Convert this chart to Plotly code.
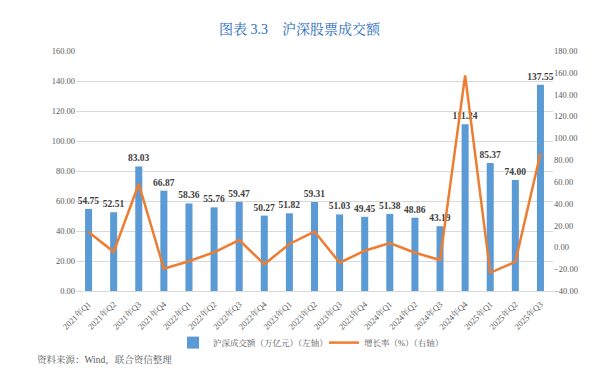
import plotly.graph_objects as go

categories = ["2021年Q1", "2021年Q2", "2021年Q3", "2021年Q4",
              "2022年Q1", "2022年Q2", "2022年Q3", "2022年Q4",
              "2023年Q1", "2023年Q2", "2023年Q3", "2023年Q4",
              "2024年Q1", "2024年Q2", "2024年Q3", "2024年Q4",
              "2025年Q1", "2025年Q2", "2025年Q3"]
turnover = [54.75, 52.51, 83.03, 66.87, 58.36, 55.76, 59.47, 50.27, 51.82, 59.31,
            51.03, 49.45, 51.38, 48.86, 43.19, 111.24, 85.37, 74.00, 137.55]
growth = [14.1, -4.1, 58.1, -19.5, -12.7, -4.5, 6.7, -15.5, 3.1, 14.5,
          -14.0, -3.1, 3.9, -4.9, -11.6, 157.6, -23.3, -13.3, 85.9]

bar_name = "沪深成交额（万亿元）（左轴）"
line_name = "增长率（%）（右轴）"
title_text = "图表 3.3　沪深股票成交额"
source_text = "资料来源：Wind，联合资信整理"

SERIF = "Liberation Serif, Noto Serif CJK SC, Noto Sans CJK SC, serif"
GRAY = "#595959"

fig = go.Figure()
fig.add_trace(go.Bar(
    x=categories, y=turnover, name=bar_name,
    marker=dict(color="#5B9BD5", line=dict(width=0)),
    text=[f"{v:.2f}" for v in turnover], textposition="outside",
    constraintext="none",
    textfont=dict(family=SERIF, size=9.5, color="#404040", weight="bold"),
    cliponaxis=False, yaxis="y", legend="legend",
))
fig.add_trace(go.Scatter(
    x=categories, y=growth, name=line_name, mode="lines",
    line=dict(color="#ED7D31", width=2.5), yaxis="y2", legend="legend2",
))

W = 477.0
leg_common = dict(orientation="h", y=-0.215, yanchor="middle", xanchor="left",
                  font=dict(family=SERIF, size=8.5, color=GRAY),
                  itemwidth=30, bgcolor="rgba(0,0,0,0)")

fig.update_layout(
    width=592, height=368,
    margin=dict(l=76, r=39, t=51, b=77, autoexpand=False),
    paper_bgcolor="white", plot_bgcolor="white",
    bargap=0.72,
    showlegend=True,
    legend=dict(x=(173 - 76) / W, **leg_common),
    legend2=dict(x=(324 - 76) / W, **leg_common),
    font=dict(family=SERIF, size=9, color=GRAY),
    xaxis=dict(tickangle=-45, tickfont=dict(family=SERIF, size=8.5, color=GRAY),
               showgrid=False, showline=True, linecolor="#d9d9d9", linewidth=1,
               ticks="", automargin=False, ticklabelstandoff=4),
    yaxis=dict(range=[0, 160], dtick=20, tickformat=".2f",
               tickfont=dict(family=SERIF, size=8.5, color=GRAY),
               showgrid=True, gridcolor="#d9d9d9", gridwidth=1, zeroline=False,
               ticks="", automargin=False),
    yaxis2=dict(range=[-40, 180], dtick=20, tickformat=".2f", overlaying="y", side="right",
                tickfont=dict(family=SERIF, size=8.5, color=GRAY),
                showgrid=False, zeroline=False, ticks="", automargin=False),
    annotations=[
        dict(text=title_text, xref="paper", yref="paper", x=(300 - 76) / W, y=1.0,
             yshift=22, showarrow=False, xanchor="center", yanchor="middle",
             font=dict(family=SERIF, size=14, color="#2A6EBB")),
        dict(text=source_text, xref="paper", yref="paper", x=(35 - 76) / W, y=0,
             yshift=-69, showarrow=False, xanchor="left", yanchor="middle",
             font=dict(family=SERIF, size=9.5, color=GRAY)),
    ],
)

fig.write_html("out.html", config={"displayModeBar": False},
               post_script="document.body.style.margin='0';document.body.style.overflow='hidden';")
